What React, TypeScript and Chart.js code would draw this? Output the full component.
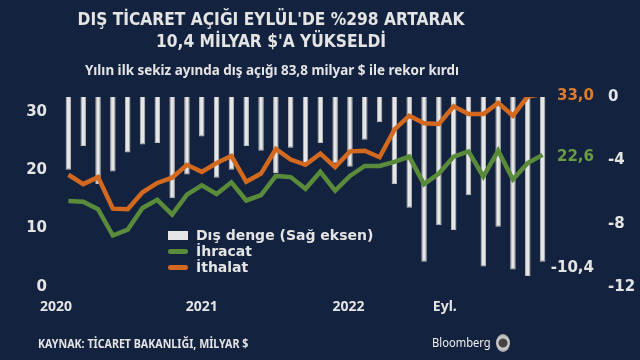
import React, { useEffect, useRef } from "react";
import { Chart, registerables } from "chart.js";

Chart.register(...registerables);

const months = [
  "Oca 2020", "Şub 2020", "Mar 2020", "Nis 2020", "May 2020", "Haz 2020", "Tem 2020", "Ağu 2020", "Eyl 2020", "Eki 2020", "Kas 2020", "Ara 2020",
  "Oca 2021", "Şub 2021", "Mar 2021", "Nis 2021", "May 2021", "Haz 2021", "Tem 2021", "Ağu 2021", "Eyl 2021", "Eki 2021", "Kas 2021", "Ara 2021",
  "Oca 2022", "Şub 2022", "Mar 2022", "Nis 2022", "May 2022", "Haz 2022", "Tem 2022", "Ağu 2022", "Eyl 2022",
];

const disDenge = [
  -4.6, -3.1, -5.5, -4.7, -3.5, -3.0, -2.9, -6.4, -4.9, -2.5, -5.1, -4.6,
  -3.1, -3.4, -4.8, -3.2, -4.2, -2.9, -4.2, -4.4, -2.7, -1.6, -5.5, -7.0,
  -10.4, -8.1, -8.4, -6.2, -10.7, -8.2, -10.9, -11.3, -10.4,
];

const ihracat = [
  14.7, 14.6, 13.3, 8.8, 9.8, 13.5, 14.9, 12.4, 15.8, 17.4, 15.9, 17.9,
  14.8, 15.7, 19.0, 18.8, 16.8, 19.7, 16.5, 19.0, 20.7, 20.7, 21.4, 22.3,
  17.6, 19.4, 22.3, 23.2, 18.9, 23.3, 18.4, 21.2, 22.6,
];

const ithalat = [
  19.2, 17.6, 18.8, 13.4, 13.3, 16.2, 17.8, 18.7, 20.9, 19.7, 21.2, 22.4,
  18.0, 19.4, 23.6, 21.8, 20.9, 22.8, 20.5, 23.2, 23.3, 22.2, 26.9, 29.3,
  28.0, 27.9, 30.9, 29.6, 29.6, 31.5, 29.3, 32.6, 33.0,
];

// bottom axis labels and where they sit (in month-index units, as in the source picture)
const xTickLabels = ["2020", "2021", "2022", "Eyl."];
const xTickPositions = [-0.83, 9.0, 18.9, 25.4];

const leftTicks = [0, 10, 20, 30];
const rightTicks = [0, -4, -8, -12];

const BG = "#13233f";
const ORANGE = "#d2691f";
const GREEN = "#5a8b3a";
const BAR = "#e6e6e6";
const TEXT = "#e4e4e4";

const fmt = (v: number) => v.toFixed(1).replace(".", ",");

const endLabels = {
  id: "endLabels",
  afterDatasetsDraw(chart: any) {
    const { ctx, chartArea } = chart;
    ctx.save();
    ctx.font = "bold 15px 'DejaVu Sans'";
    ctx.textAlign = "right";
    ctx.textBaseline = "middle";
    chart.data.datasets.forEach((ds: any, i: number) => {
      const meta = chart.getDatasetMeta(i);
      const last = ds.data.length - 1;
      const scale = chart.scales[meta.yAxisID];
      const v = ds.data[last];
      let y = scale.getPixelForValue(v);
      if (ds.type === "bar") y += 6;
      else y += 2;
      ctx.fillStyle = ds.labelColor;
      ctx.fillText(fmt(v), chartArea.right + 44, y);
    });
    ctx.restore();
  },
};

function ChartCanvas() {
  const ref = useRef<HTMLCanvasElement | null>(null);
  useEffect(() => {
    if (!ref.current) return;
    const chart = new Chart(ref.current, {
      data: {
        labels: months,
        datasets: [
          {
            type: "line",
            label: "İthalat",
            data: ithalat,
            borderColor: ORANGE,
            borderWidth: 4.5,
            pointRadius: 0,
            tension: 0,
            yAxisID: "y",
            order: 1,
            labelColor: "#e07a2e",
          } as any,
          {
            type: "line",
            label: "İhracat",
            data: ihracat,
            borderColor: GREEN,
            borderWidth: 4.5,
            pointRadius: 0,
            tension: 0,
            yAxisID: "y",
            order: 2,
            labelColor: "#6b9c45",
          } as any,
          {
            type: "bar",
            label: "Dış denge (Sağ eksen)",
            data: disDenge,
            backgroundColor: BAR,
            borderColor: "#bdbdbd",
            borderWidth: 1,
            barPercentage: 0.37,
            categoryPercentage: 1,
            yAxisID: "y2",
            order: 3,
            labelColor: TEXT,
          } as any,
        ],
      },
      options: {
        animation: false,
        responsive: false,
        maintainAspectRatio: false,
        layout: { padding: { top: 97, left: 0, right: 0, bottom: 0 } },
        plugins: { legend: { display: false }, tooltip: { enabled: false }, title: { display: false } },
        scales: {
          x: {
            type: "category",
            display: false,
            offset: true,
          },
          x2: {
            type: "linear",
            position: "bottom",
            min: -0.5,
            max: months.length - 0.5,
            grid: { display: false, drawTicks: false },
            border: { display: false },
            afterBuildTicks: (scale: any) => {
              scale.ticks = xTickPositions.map((v) => ({ value: v }));
            },
            afterFit: (scale: any) => {
              scale.height = 73;
            },
            ticks: {
              autoSkip: false,
              maxRotation: 0,
              padding: 12,
              color: TEXT,
              font: { family: "'Noto Sans'", size: 14, weight: "bold" },
              callback: (v: any) => {
                const i = xTickPositions.indexOf(Number(v));
                return i >= 0 ? xTickLabels[i] : "";
              },
            },
          },
          y: {
            position: "left",
            min: 0,
            max: 32.5,
            grid: { display: false, drawTicks: false },
            border: { display: false },
            afterBuildTicks: (scale: any) => {
              scale.ticks = leftTicks.map((v) => ({ value: v }));
            },
            afterFit: (scale: any) => {
              scale.width = 61;
            },
            ticks: {
              padding: 14,
              color: TEXT,
              font: { family: "'DejaVu Sans'", size: 15, weight: "bold" },
            },
          },
          y2: {
            position: "right",
            min: -12,
            max: 0,
            grid: { display: false, drawTicks: false },
            border: { display: false },
            afterBuildTicks: (scale: any) => {
              scale.ticks = rightTicks.map((v) => ({ value: v }));
            },
            afterFit: (scale: any) => {
              scale.width = 90;
            },
            ticks: {
              padding: 58,
              color: TEXT,
              font: { family: "'DejaVu Sans'", size: 15, weight: "bold" },
            },
          },
        },
      } as any,
      plugins: [endLabels],
    });
    return () => chart.destroy();
  }, []);
  return <canvas ref={ref} width={640} height={360} style={{ position: "absolute", left: 0, top: 0 }} />;
}

const legendItems = [
  { label: "Dış denge (Sağ eksen)", kind: "bar", color: BAR },
  { label: "İhracat", kind: "line", color: GREEN },
  { label: "İthalat", kind: "line", color: ORANGE },
];

export default function App() {
  return (
    <div
      style={{
        position: "fixed",
        left: 0,
        top: 0,
        width: 640,
        height: 360,
        background: BG,
        overflow: "hidden",
        fontFamily: "'DejaVu Sans', sans-serif",
        color: TEXT,
      }}
    >
      <ChartCanvas />
      <div
        style={{
          position: "absolute",
          left: 0,
          top: 8,
          width: 542,
          textAlign: "center",
          fontWeight: "bold",
          fontSize: 18,
          lineHeight: "22px",
          fontFamily: "'DejaVu Sans'",
          transform: "scaleX(0.86)",
          transformOrigin: "271px 0",
        }}
      >
        DIŞ TİCARET AÇIĞI EYLÜL'DE %298 ARTARAK
        <br />
        10,4 MİLYAR $'A YÜKSELDİ
      </div>
      <div
        style={{
          position: "absolute",
          left: 0,
          top: 60,
          width: 544,
          textAlign: "center",
          fontWeight: "bold",
          fontSize: 14,
          lineHeight: "20px",
          fontFamily: "'Noto Sans'",
          transform: "scaleX(0.96)",
          transformOrigin: "272px 0",
        }}
      >
        Yılın ilk sekiz ayında dış açığı 83,8 milyar $ ile rekor kırdı
      </div>
      <div style={{ position: "absolute", left: 168, top: 227, lineHeight: "16px" }}>
        {legendItems.map((it) => (
          <div key={it.label} style={{ display: "flex", alignItems: "center", height: 16 }}>
            <span
              style={{
                display: "inline-block",
                width: 20,
                height: it.kind === "bar" ? 9 : 5,
                background: it.color,
                borderRadius: it.kind === "bar" ? 0 : 3,
                marginRight: 8,
              }}
            />
            <span style={{ fontWeight: "bold", fontSize: 14, fontFamily: "'DejaVu Sans'" }}>{it.label}</span>
          </div>
        ))}
      </div>
      <div
        style={{
          position: "absolute",
          left: 38,
          top: 334,
          fontWeight: "bold",
          fontSize: 13,
          lineHeight: "18px",
          fontFamily: "'Noto Sans'",
          whiteSpace: "nowrap",
          transform: "scaleX(0.82)",
          transformOrigin: "0 0",
        }}
      >
        KAYNAK: TİCARET BAKANLIĞI, MİLYAR $
      </div>
      <div
        style={{
          position: "absolute",
          left: 432,
          top: 333,
          fontSize: 13,
          lineHeight: "18px",
          fontFamily: "'Noto Sans'",
          color: "#f0f0f0",
          transform: "scaleX(0.86)",
          transformOrigin: "0 0",
        }}
      >
        Bloomberg
      </div>
      <div
        style={{
          position: "absolute",
          left: 496,
          top: 334,
          width: 14,
          height: 18,
          borderRadius: "50%",
          background: "radial-gradient(circle, #444 35%, #cfcfcf 45%, #8a8a8a 100%)",
        }}
      />
    </div>
  );
}
